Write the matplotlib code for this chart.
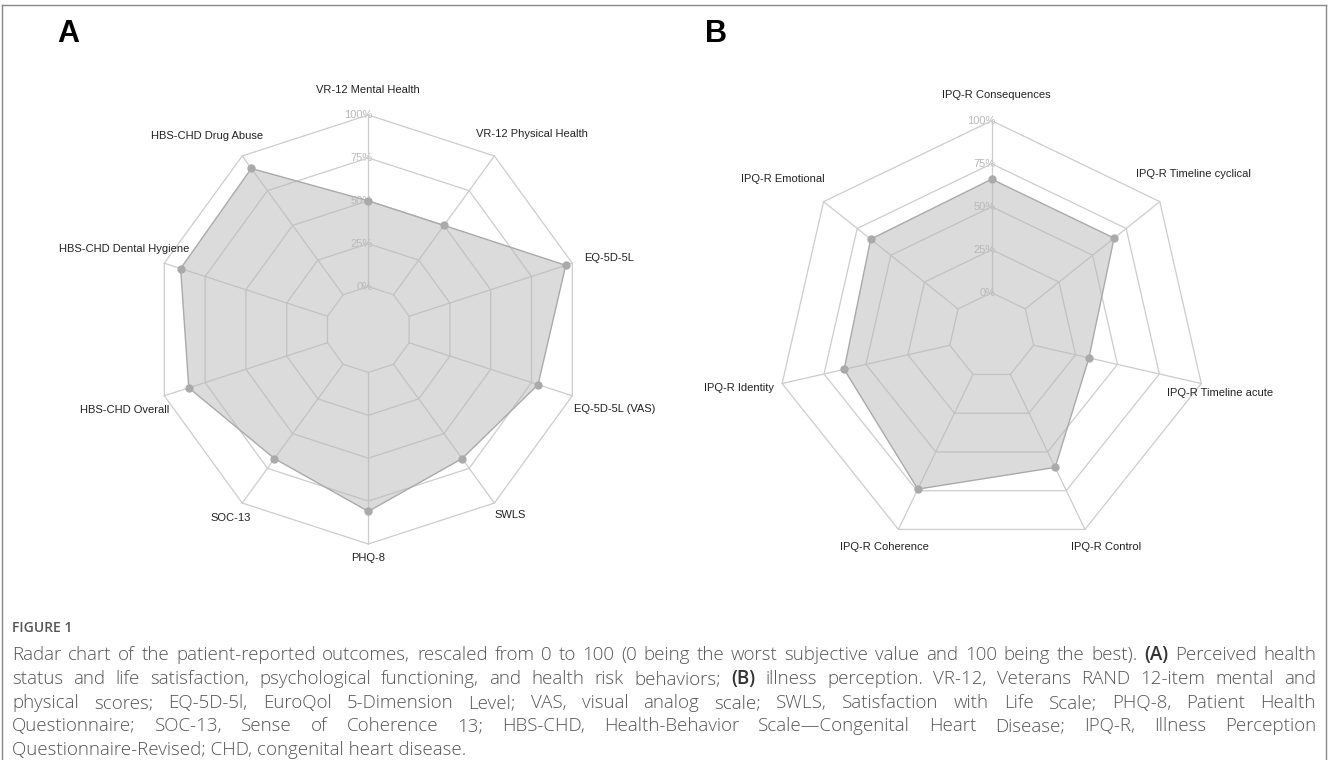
import numpy as np
import matplotlib
matplotlib.use('Agg')
import matplotlib.pyplot as plt
from matplotlib.lines import Line2D

# ---- data ----
labels_a = ['VR-12 Mental Health', 'VR-12 Physical Health', 'EQ-5D-5L', 'EQ-5D-5L (VAS)',
            'SWLS', 'PHQ-8', 'SOC-13', 'HBS-CHD Overall', 'HBS-CHD Dental Hygiene',
            'HBS-CHD Drug Abuse']
values_a = [50, 50, 96, 79, 68, 81, 68, 85, 90, 91]

labels_b = ['IPQ-R Consequences', 'IPQ-R Timeline cyclical', 'IPQ-R Timeline acute',
            'IPQ-R Control', 'IPQ-R Coherence', 'IPQ-R Identity', 'IPQ-R Emotional']
values_b = [66, 66, 33, 60, 74, 63, 65]

levels = [0, 25, 50, 75, 100]
level_labels = ['0%', '25%', '50%', '75%', '100%']

# label offsets (pixels) from the outer vertex of each spoke
offsets_a = [(0, 25), (38, 22), (37, 5), (42, -13), (16, -12), (0, -14),
             (-12, -15), (-40, -14), (-40, 14), (-35, 20)]
offsets_b = [(5, 26), (34, 28), (19, -9), (21, -18), (-14, -18), (-43, -4), (-41, 23)]

caption_lines = [
    'Radar chart of the patient-reported outcomes, rescaled from 0 to 100 (0 being the worst subjective value and 100 being the best). (A) Perceived health',
    'status and life satisfaction, psychological functioning, and health risk behaviors; (B) illness perception. VR-12, Veterans RAND 12-item mental and',
    'physical scores; EQ-5D-5l, EuroQol 5-Dimension Level; VAS, visual analog scale; SWLS, Satisfaction with Life Scale; PHQ-8, Patient Health',
    'Questionnaire; SOC-13, Sense of Coherence 13; HBS-CHD, Health-Behavior Scale\u2014Congenital Heart Disease; IPQ-R, Illness Perception',
    'Questionnaire-Revised; CHD, congenital heart disease.',
]

W, H = 1328, 760
fig = plt.figure(figsize=(W / 100, H / 100), dpi=100)
chart_font = 'Liberation Sans'
cap_font = 'Open Sans'
grid_c = '#cccccc'
cap_size = 13.5


def radar(rect, labels, values, offsets):
    ax = fig.add_axes(rect, projection='polar')
    ax.set_theta_zero_location('N')
    ax.set_theta_direction(-1)
    ax.set_ylim(0, 100)
    ax.set_rorigin(-25)
    ax.set_axis_off()
    n = len(labels)
    theta = np.arange(n) * 2 * np.pi / n
    tc = np.append(theta, theta[0])
    for lv in levels:
        ax.plot(tc, [lv] * (n + 1), color=grid_c, lw=0.9, clip_on=False, zorder=1)
    for t in theta:
        ax.plot([t, t], [0, 100], color=grid_c, lw=0.9, clip_on=False, zorder=1)
    vc = values + values[:1]
    ax.fill(tc, vc, color='#b8b8b8', alpha=0.5, lw=0, zorder=2, clip_on=False)
    ax.plot(tc, vc, color='#aaaaaa', lw=1, zorder=3, clip_on=False)
    ax.plot(theta, values, 'o', color='#aaaaaa', ms=5, zorder=4, clip_on=False)
    for lv, lab in zip(levels, level_labels):
        ax.annotate(lab, xy=(0, lv), xytext=(4, 0), textcoords='offset pixels',
                    ha='right', va='center', fontsize=8, color='#bababa',
                    family=chart_font, zorder=0)
    for t, lab, off in zip(theta, labels, offsets):
        ax.annotate(lab, xy=(t, 100), xytext=off, textcoords='offset pixels',
                    ha='center', va='center', fontsize=8, color='#222222',
                    family=chart_font, annotation_clip=False)
    return ax


# panel A: centre (368, 330), radius 214.5 px
radar([153.8 / W, 1 - 544 / H, 429 / W, 429 / H], labels_a, values_a, offsets_a)
# panel B: centre (992, 336), radius 215 px
radar([776.7 / W, 1 - 550.7 / H, 430 / W, 430 / H], labels_b, values_b, offsets_b)

fig.text(57 / W, 1 - 42 / H, 'A', fontsize=22, fontweight='bold', family=chart_font,
         ha='left', va='baseline')
fig.text(705 / W, 1 - 42 / H, 'B', fontsize=22, fontweight='bold', family=chart_font,
         ha='left', va='baseline')

# frame
for xs, ys in [([2, 2], [5, 780]), ([2, 1326], [5, 5]), ([1326, 1326], [5, 780])]:
    fig.add_artist(Line2D([x / W for x in xs], [1 - y / H for y in ys], color='#888888', lw=1))

fig.text(12 / W, 1 - 632 / H, 'FIGURE 1', fontsize=10, fontweight='semibold',
         family=cap_font, color='#555555', va='baseline')

# caption, justified
r = fig.canvas.get_renderer()
left, right = 12, 1316
baselines = [660, 684, 708, 731, 755]
for i, (line, yb) in enumerate(zip(caption_lines, baselines)):
    y = 1 - yb / H
    if i == len(caption_lines) - 1:
        fig.text(left / W, y, line, fontsize=cap_size, family=cap_font, color='#555555',
                 fontweight='light', va='baseline')
        continue
    words = line.split(' ')
    texts = []
    for w in words:
        bold = w in ('(A)', '(B)')
        texts.append(fig.text(0, y, w, fontsize=cap_size, family=cap_font, va='baseline',
                              fontweight='semibold' if bold else 'light',
                              color='#333333' if bold else '#555555'))
    widths = [t.get_window_extent(r).width for t in texts]
    gap = (right - left - sum(widths)) / (len(words) - 1)
    x = left
    for t, w in zip(texts, widths):
        t.set_x(x / W)
        x += w + gap

fig.savefig('out.png', dpi=100)
